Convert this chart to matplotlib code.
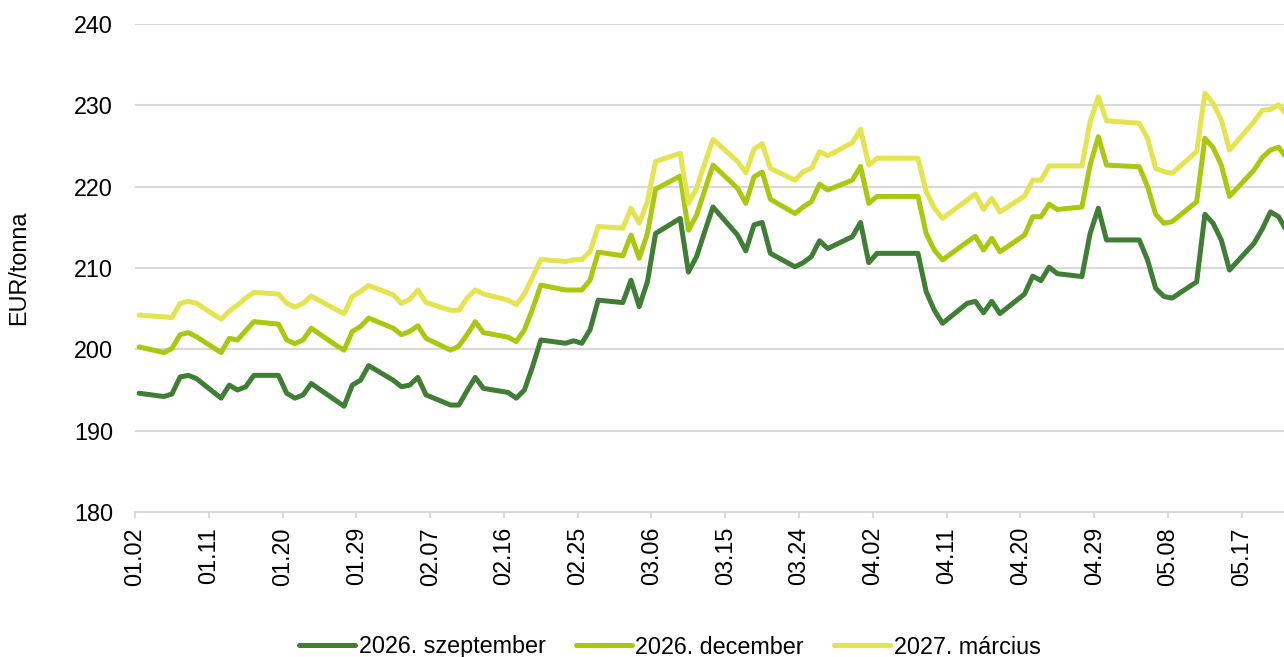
import matplotlib.pyplot as plt
import matplotlib.dates as mdates
import pandas as pd

plt.rcParams['font.family'] = ['Liberation Sans', 'DejaVu Sans']

# trading days (2026), MM.DD
dates = [
    "01.02", "01.05", "01.06", "01.07", "01.08", "01.09", "01.12", "01.13", "01.14", "01.15",
    "01.16", "01.19", "01.20", "01.21", "01.22", "01.23", "01.26", "01.27", "01.28", "01.29",
    "01.30",
    "02.02", "02.03", "02.04", "02.05", "02.06", "02.09", "02.10", "02.11", "02.12", "02.13",
    "02.16", "02.17", "02.18", "02.19", "02.20", "02.23", "02.24", "02.25", "02.26", "02.27",
    "03.02", "03.03", "03.04", "03.05", "03.06", "03.09", "03.10", "03.11", "03.12", "03.13",
    "03.16", "03.17", "03.18", "03.19", "03.20", "03.23", "03.24", "03.25", "03.26", "03.27",
    "03.30", "03.31",
    "04.01", "04.02", "04.07", "04.08", "04.09", "04.10", "04.13", "04.14", "04.15", "04.16",
    "04.17", "04.20", "04.21", "04.22", "04.23", "04.24", "04.27", "04.28", "04.29", "04.30",
    "05.04", "05.05", "05.06", "05.07", "05.08", "05.11", "05.12", "05.13", "05.14", "05.15",
    "05.18", "05.19", "05.20", "05.21", "05.22",
]

sep_2026 = [
    194.6, 194.2, 194.5, 196.6, 196.8, 196.4, 194.0, 195.6, 195.0, 195.4,
    196.8, 196.8, 194.6, 194.0, 194.4, 195.8, 193.7, 193.0, 195.6, 196.2,
    198.0,
    196.2, 195.4, 195.6, 196.55, 194.4, 193.15, 193.15, 194.9, 196.55, 195.2,
    194.7, 194.0, 195.0, 197.9, 201.15, 200.75, 201.05, 200.75, 202.4, 206.05,
    205.75, 208.5, 205.25, 208.3, 214.25, 216.1, 209.5, 211.4, 214.5, 217.5,
    214.05, 212.1, 215.3, 215.6, 211.8, 210.15, 210.65, 211.4, 213.35, 212.4,
    213.85, 215.6,
    210.65, 211.8, 211.8, 207.1, 204.8, 203.2, 205.65, 205.9, 204.5, 205.9,
    204.4, 206.8, 209.0, 208.45, 210.1, 209.3, 208.95, 214.25, 217.35, 213.45,
    213.45, 211.0, 207.5, 206.5, 206.3, 208.3, 216.6, 215.5, 213.45, 209.75,
    213.05, 214.8, 216.9, 216.3, 214.5,
]

dec_2026 = [
    200.3, 199.6, 200.1, 201.8, 202.05, 201.55, 199.6, 201.35, 201.15, 202.3,
    203.4, 203.1, 201.15, 200.7, 201.15, 202.6, 200.5, 199.9, 202.2, 202.8,
    203.85,
    202.6, 201.8, 202.2, 202.9, 201.35, 199.9, 200.4, 201.8, 203.4, 202.05,
    201.5, 200.95, 202.4, 205.0, 207.9, 207.3, 207.3, 207.3, 208.5, 211.95,
    211.5, 214.05, 211.2, 214.25, 219.7, 221.3, 214.65, 216.5, 219.6, 222.65,
    219.8, 217.95, 221.2, 221.8, 218.45, 216.7, 217.5, 218.15, 220.3, 219.6,
    220.8, 222.5,
    217.95, 218.8, 218.8, 214.25, 212.2, 211.0, 213.2, 213.9, 212.2, 213.65,
    212.0, 214.05, 216.3, 216.3, 217.85, 217.2, 217.5, 222.65, 226.15, 222.65,
    222.45, 220.0, 216.6, 215.5, 215.7, 218.15, 225.95, 224.8, 222.65, 218.8,
    222.05, 223.6, 224.5, 224.85, 223.45,
]

mar_2027 = [
    204.2, 204.0, 203.9, 205.65, 205.9, 205.65, 203.7, 204.7, 205.45, 206.3,
    207.0, 206.8, 205.65, 205.2, 205.65, 206.55, 204.9, 204.4, 206.5, 207.1,
    207.85,
    206.7, 205.65, 206.15, 207.3, 205.75, 204.8, 204.8, 206.3, 207.3, 206.8,
    206.05, 205.5, 206.8, 208.9, 211.05, 210.8, 211.0, 211.05, 212.0, 215.1,
    214.9, 217.35, 215.5, 218.15, 223.1, 224.1, 217.95, 219.8, 222.9, 225.8,
    223.1, 221.7, 224.6, 225.3, 222.25, 220.8, 221.85, 222.25, 224.3, 223.8,
    225.4, 227.05,
    222.65, 223.5, 223.5, 219.4, 217.35, 216.1, 218.35, 219.1, 217.2, 218.55,
    216.9, 218.85, 220.8, 220.8, 222.55, 222.55, 222.55, 228.0, 231.05, 228.1,
    227.8, 225.95, 222.25, 221.85, 221.65, 224.3, 231.5, 230.25, 228.2, 224.5,
    228.0, 229.4, 229.5, 230.05, 228.85,
]

labels = ["2026. szeptember", "2026. december", "2027. március"]
colors = ["#407d35", "#aac810", "#e4e450"]

# points sit in the middle of each day slot (Excel date axis)
x = pd.to_datetime(["2026." + d for d in dates], format="%Y.%m.%d") + pd.Timedelta(hours=12)

W, H = 1284, 657
fig = plt.figure(figsize=(W / 100, H / 100), dpi=100)
ax = fig.add_axes([135 / W, 1 - 512 / H, 1 - 135 / W, (512 - 24) / H])

for vals, col, lab in zip([sep_2026, dec_2026, mar_2027], colors, labels):
    ax.plot(x, vals, color=col, lw=3.6, label=lab,
            solid_joinstyle="round", solid_capstyle="round")

start = pd.Timestamp("2026-01-02")
ax.set_xlim(start, start + pd.Timedelta(days=140.15))
ax.set_xticks(pd.date_range(start, periods=16, freq="9D"))
ax.xaxis.set_major_formatter(mdates.DateFormatter("%m.%d"))

ax.set_ylim(180, 240)
ax.set_yticks(range(180, 241, 10))
ax.grid(axis="y", color="#d9d9d9", lw=1.5)
ax.set_axisbelow(True)

for s in ["left", "right", "top"]:
    ax.spines[s].set_visible(False)
ax.spines["bottom"].set_color("#d9d9d9")
ax.spines["bottom"].set_linewidth(1.5)

fs = 16.8
ax.tick_params(axis="y", length=0, pad=15.8, labelsize=fs)
ax.tick_params(axis="x", length=4.3, width=1.5, color="#d9d9d9", pad=6.5,
               labelsize=fs, labelrotation=90)

ax.set_ylabel("EUR/tonna", fontsize=fs)
ax.yaxis.set_label_coords(-0.0914, 0.5)

fig.legend(loc="center", bbox_to_anchor=(670 / W, 1 - 647 / H), ncol=3,
           frameon=False, fontsize=fs, handlelength=2.4, handletextpad=0.15,
           columnspacing=1.3)

fig.savefig("out.png", dpi=100)
